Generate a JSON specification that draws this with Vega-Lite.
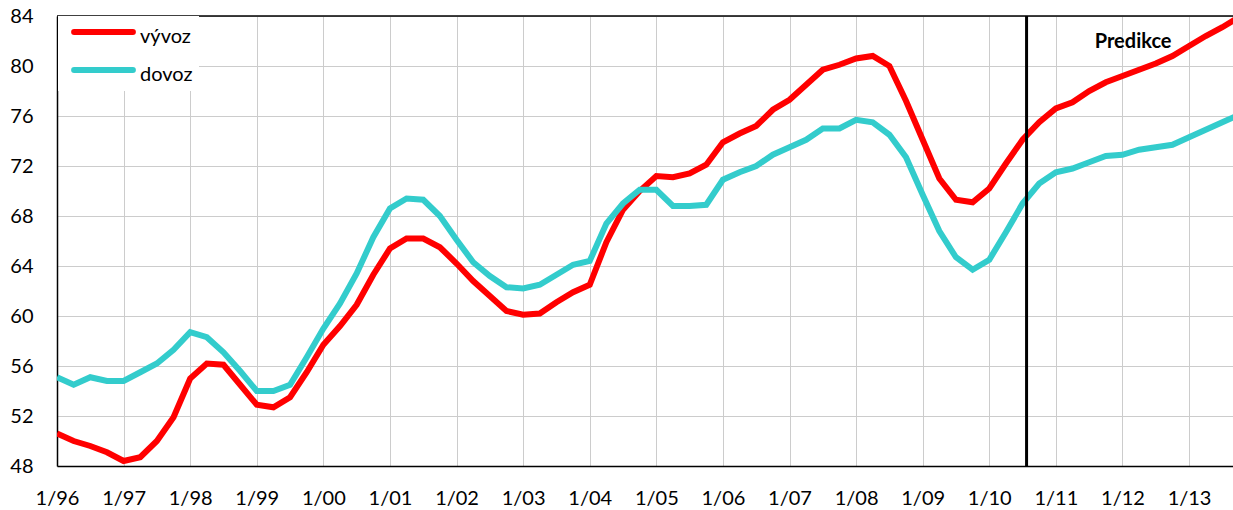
{
  "$schema": "https://vega.github.io/schema/vega-lite/v6.json",
  "width": 1176,
  "height": 450,
  "autosize": {"type": "none"},
  "padding": {"left": 57, "top": 16, "right": 0, "bottom": 44},
  "background": "white",
  "config": {
    "view": {"stroke": null},
    "font": "Lato",
    "axis": {
      "ticks": false,
      "labelFont": "Lato",
      "labelFontSize": 20,
      "labelColor": "#000000",
      "domainColor": "#000000",
      "domainWidth": 1.5,
      "gridColor": "#cccccc",
      "gridWidth": 1,
      "title": null
    }
  },
  "datasets": {
    "main": [
      {"t": 1996.00, "vývoz": 50.6, "dovoz": 55.1},
      {"t": 1996.25, "vývoz": 50.0, "dovoz": 54.5},
      {"t": 1996.50, "vývoz": 49.6, "dovoz": 55.1},
      {"t": 1996.75, "vývoz": 49.1, "dovoz": 54.8},
      {"t": 1997.00, "vývoz": 48.4, "dovoz": 54.8},
      {"t": 1997.25, "vývoz": 48.7, "dovoz": 55.5},
      {"t": 1997.50, "vývoz": 50.0, "dovoz": 56.2},
      {"t": 1997.75, "vývoz": 51.9, "dovoz": 57.3},
      {"t": 1998.00, "vývoz": 55.0, "dovoz": 58.7},
      {"t": 1998.25, "vývoz": 56.2, "dovoz": 58.3},
      {"t": 1998.50, "vývoz": 56.1, "dovoz": 57.1},
      {"t": 1998.75, "vývoz": 54.5, "dovoz": 55.6},
      {"t": 1999.00, "vývoz": 52.9, "dovoz": 54.0},
      {"t": 1999.25, "vývoz": 52.7, "dovoz": 54.0},
      {"t": 1999.50, "vývoz": 53.5, "dovoz": 54.5},
      {"t": 1999.75, "vývoz": 55.5, "dovoz": 56.7},
      {"t": 2000.00, "vývoz": 57.7, "dovoz": 59.0},
      {"t": 2000.25, "vývoz": 59.2, "dovoz": 61.0},
      {"t": 2000.50, "vývoz": 60.9, "dovoz": 63.4},
      {"t": 2000.75, "vývoz": 63.3, "dovoz": 66.3},
      {"t": 2001.00, "vývoz": 65.4, "dovoz": 68.6},
      {"t": 2001.25, "vývoz": 66.2, "dovoz": 69.4},
      {"t": 2001.50, "vývoz": 66.2, "dovoz": 69.3},
      {"t": 2001.75, "vývoz": 65.5, "dovoz": 68.0},
      {"t": 2002.00, "vývoz": 64.2, "dovoz": 66.1},
      {"t": 2002.25, "vývoz": 62.8, "dovoz": 64.3},
      {"t": 2002.50, "vývoz": 61.6, "dovoz": 63.2},
      {"t": 2002.75, "vývoz": 60.4, "dovoz": 62.3},
      {"t": 2003.00, "vývoz": 60.1, "dovoz": 62.2},
      {"t": 2003.25, "vývoz": 60.2, "dovoz": 62.5},
      {"t": 2003.50, "vývoz": 61.1, "dovoz": 63.3},
      {"t": 2003.75, "vývoz": 61.9, "dovoz": 64.1},
      {"t": 2004.00, "vývoz": 62.5, "dovoz": 64.4},
      {"t": 2004.25, "vývoz": 65.9, "dovoz": 67.4},
      {"t": 2004.50, "vývoz": 68.5, "dovoz": 69.0},
      {"t": 2004.75, "vývoz": 70.0, "dovoz": 70.1},
      {"t": 2005.00, "vývoz": 71.2, "dovoz": 70.1},
      {"t": 2005.25, "vývoz": 71.1, "dovoz": 68.8},
      {"t": 2005.50, "vývoz": 71.4, "dovoz": 68.8},
      {"t": 2005.75, "vývoz": 72.1, "dovoz": 68.9},
      {"t": 2006.00, "vývoz": 73.9, "dovoz": 70.9},
      {"t": 2006.25, "vývoz": 74.6, "dovoz": 71.5},
      {"t": 2006.50, "vývoz": 75.2, "dovoz": 72.0},
      {"t": 2006.75, "vývoz": 76.5, "dovoz": 72.9},
      {"t": 2007.00, "vývoz": 77.3, "dovoz": 73.5},
      {"t": 2007.25, "vývoz": 78.5, "dovoz": 74.1},
      {"t": 2007.50, "vývoz": 79.7, "dovoz": 75.0},
      {"t": 2007.75, "vývoz": 80.1, "dovoz": 75.0},
      {"t": 2008.00, "vývoz": 80.6, "dovoz": 75.7},
      {"t": 2008.25, "vývoz": 80.8, "dovoz": 75.5},
      {"t": 2008.50, "vývoz": 80.0, "dovoz": 74.5},
      {"t": 2008.75, "vývoz": 77.2, "dovoz": 72.7},
      {"t": 2009.00, "vývoz": 74.1, "dovoz": 69.7},
      {"t": 2009.25, "vývoz": 71.0, "dovoz": 66.8},
      {"t": 2009.50, "vývoz": 69.3, "dovoz": 64.7},
      {"t": 2009.75, "vývoz": 69.1, "dovoz": 63.7},
      {"t": 2010.00, "vývoz": 70.2, "dovoz": 64.5},
      {"t": 2010.25, "vývoz": 72.2, "dovoz": 66.7},
      {"t": 2010.50, "vývoz": 74.1, "dovoz": 69.0},
      {"t": 2010.75, "vývoz": 75.5, "dovoz": 70.6},
      {"t": 2011.00, "vývoz": 76.6, "dovoz": 71.5},
      {"t": 2011.25, "vývoz": 77.1, "dovoz": 71.8},
      {"t": 2011.50, "vývoz": 78.0, "dovoz": 72.3},
      {"t": 2011.75, "vývoz": 78.7, "dovoz": 72.8},
      {"t": 2012.00, "vývoz": 79.2, "dovoz": 72.9},
      {"t": 2012.25, "vývoz": 79.7, "dovoz": 73.3},
      {"t": 2012.50, "vývoz": 80.2, "dovoz": 73.5},
      {"t": 2012.75, "vývoz": 80.8, "dovoz": 73.7},
      {"t": 2013.00, "vývoz": 81.6, "dovoz": 74.3},
      {"t": 2013.25, "vývoz": 82.4, "dovoz": 74.9},
      {"t": 2013.50, "vývoz": 83.1, "dovoz": 75.5},
      {"t": 2013.75, "vývoz": 83.9, "dovoz": 76.1}
    ],
    "marker": [{"t": 2010.56}],
    "label": [{"t": 2012.16, "v": 81.94, "text": "Predikce"}]
  },
  "layer": [
    {
      "data": {"name": "main"},
      "transform": [{"fold": ["vývoz", "dovoz"], "as": ["s", "v"]}],
      "mark": {"type": "line", "strokeWidth": 6, "clip": true},
      "encoding": {
        "x": {
          "field": "t",
          "type": "quantitative",
          "scale": {"domain": [1996, 2013.66], "nice": false, "zero": false},
          "axis": {
            "values": [1996, 1997, 1998, 1999, 2000, 2001, 2002, 2003, 2004, 2005, 2006, 2007, 2008, 2009, 2010, 2011, 2012, 2013],
            "labelExpr": "'1/' + slice(toString(datum.value), 2)",
            "labelFlush": false,
            "labelOverlap": false,
            "labelBound": false,
            "labelPadding": 22,
            "grid": true
          }
        },
        "y": {
          "field": "v",
          "type": "quantitative",
          "scale": {"domain": [48, 84], "nice": false, "zero": false},
          "axis": {
            "values": [48, 52, 56, 60, 64, 68, 72, 76, 80, 84],
            "labelPadding": 24,
            "labelFlush": false,
            "labelOverlap": false,
            "grid": true
          }
        },
        "color": {
          "field": "s",
          "type": "nominal",
          "sort": ["vývoz", "dovoz"],
          "scale": {"domain": ["vývoz", "dovoz"], "range": ["#ff0000", "#33cccc"]},
          "legend": {
            "title": null,
            "orient": "none",
            "legendX": 1,
            "legendY": 0,
            "padding": 6,
            "fillColor": "white",
            "strokeColor": null,
            "symbolType": "M-4.2,0H4.2",
            "symbolSize": 196,
            "symbolStrokeWidth": 6,
            "symbolOffset": 29.5,
            "labelOffset": 26.5,
            "rowPadding": 11,
            "labelFont": "Lato",
            "labelFontSize": 20,
            "labelColor": "#000000",
            "encode": {
              "symbols": {"update": {"strokeCap": {"value": "round"}}},
              "labels": {"update": {"dy": {"value": 5}}}
            }
          }
        }
      }
    },
    {
      "data": {"name": "marker"},
      "mark": {"type": "rule", "color": "#000000", "strokeWidth": 3},
      "encoding": {"x": {"field": "t", "type": "quantitative"}}
    },
    {
      "data": {"values": [{"v": 84}]},
      "mark": {"type": "rule", "color": "#000000", "strokeWidth": 1.5},
      "encoding": {"y": {"field": "v", "type": "quantitative"}}
    },
    {
      "data": {"name": "label"},
      "mark": {"type": "text", "font": "Lato", "fontSize": 20, "fontWeight": "bold", "color": "#000000", "align": "center", "baseline": "middle"},
      "encoding": {
        "x": {"field": "t", "type": "quantitative"},
        "y": {"field": "v", "type": "quantitative"},
        "text": {"field": "text"}
      }
    }
  ]
}
